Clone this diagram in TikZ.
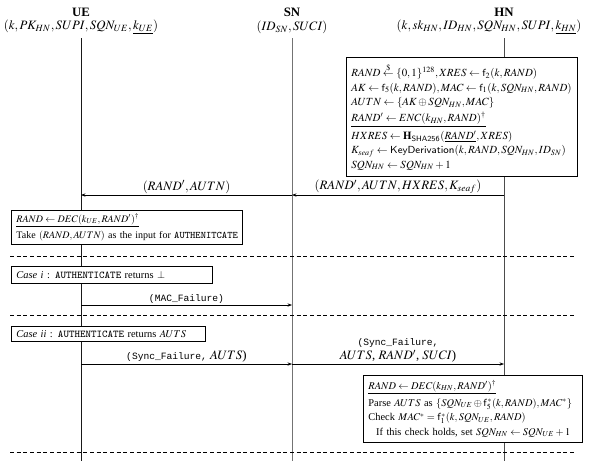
\documentclass[tikz,border=0pt]{standalone}
\usepackage{amsmath}
\usepackage{mathptmx}
\usepackage[no-math]{fontspec}
\setmainfont{Liberation Serif}
\newfontfamily\courfont{Liberation Mono}
\usetikzlibrary{arrows.meta}

\begin{document}
\begin{tikzpicture}[x=0.78pt,y=-0.78pt,
    lifeline/.style={line width=.6pt},
    msg/.style={-{Stealth[length=3.5pt,width=2.6pt]},line width=.5pt},
    box/.style={draw,line width=.5pt,fill=white,anchor=north west,align=left,inner xsep=4pt,inner ysep=1pt,font=\fontsize{8.1}{11.3}\selectfont},
    sep/.style={dash pattern=on 3pt off 2.2pt,line width=.5pt},
    lbl/.style={above,inner sep=.8pt},
    cour/.style={font=\courfont\fontsize{7.5}{9}\selectfont}]
  \useasboundingbox (0,0) rectangle (600,461);
  \coordinate (ueT) at (81,38);\coordinate (ueB) at (81,461);\coordinate (snT) at (292,38);\coordinate (snB) at (292,461);\coordinate (hnT) at (504,38);\coordinate (hnB) at (504,461);

  % parties
  \node[font=\bfseries] (ue) at (81,12) {UE};
  \node (uekeys) at (81,27) {$(k,PK_{HN},SUPI,SQN_{UE},\underline{k_{UE}})$};
  \node[font=\bfseries] (sn) at (292,12) {SN};
  \node (snkeys) at (292,27) {$(ID_{SN},SUCI)$};
  \node[font=\bfseries] (hn) at (504,12) {HN};
  \node (hnkeys) at (489,27) {$(k,sk_{HN},ID_{HN},SQN_{HN},SUPI,\underline{k_{HN}})$};

  \draw[lifeline,black!90] (ueT) -- (ueB);
  \draw[lifeline,black!55] (snT) -- (snB);
  \draw[lifeline,black!70] (hnT) -- (hnB);

  % HN prepares the challenge
  \node[box,text width=172pt,minimum height=93pt,font=\fontsize{8.5}{11.1}\selectfont] (hnprep) at (346,57) {%
    $RAND \overset{\$}{\leftarrow} \{0,1\}^{128}, XRES \leftarrow \mathsf{f}_2(k,RAND)$\\
    $AK \leftarrow \mathsf{f}_5(k,RAND), MAC \leftarrow \mathsf{f}_1(k,SQN_{HN},RAND)$\\
    $AUTN \leftarrow \{AK \oplus SQN_{HN}, MAC\}$\\[1.5pt]
    $\underline{RAND' \leftarrow ENC(k_{HN},RAND)^{\dagger}}$\\[3pt]
    $HXRES \leftarrow \mathbf{H}_{\mathsf{SHA256}}(\underline{RAND'},XRES)$\\
    $K_{seaf} \leftarrow \mathsf{KeyDerivation}(k,RAND,SQN_{HN},ID_{SN})$\\
    $SQN_{HN} \leftarrow SQN_{HN}+1$};

  \coordinate (hn1) at (504,195);\coordinate (sn1) at (292,195);\coordinate (ue1) at (81,195);
  \draw[msg] (hn1) -- node[lbl] {$(RAND',AUTN,HXRES,K_{seaf})$} (sn1);
  \draw[msg] (sn1) -- node[lbl] {$(RAND',AUTN)$} (ue1);

  \node[box,inner xsep=4pt,text width=172pt,minimum height=26.5pt,font=\fontsize{7.8}{11}\selectfont] (uedec) at (11,210) {%
    $\underline{RAND \leftarrow DEC(k_{UE},RAND')^{\dagger}}$\\[2pt]
    \mbox{Take $(RAND,AUTN)$ as the input for \texttt{AUTHENITCATE}}};

  % case i
  \node[box,text width=148.8pt,minimum height=13.3pt] (caseone) at (11,266) {%
    \textit{Case i} : \texttt{AUTHENTICATE} returns $\perp$};
  \coordinate (ue2) at (81,305);\coordinate (sn2) at (292,305);
  \draw[msg] (ue2) -- node[lbl,cour] {(MAC\_Failure)} (sn2);

  % case ii
  \node[box,text width=143.3pt,minimum height=11.7pt] (casetwo) at (11,326) {%
    \textit{Case ii} : \texttt{AUTHENTICATE} returns $AUTS$};
  \coordinate (ue3) at (81,364);\coordinate (sn3) at (292,364);\coordinate (hn3) at (504,364);
  \draw[msg] (ue3) -- node[lbl] {{\courfont\fontsize{7.5}{9}\selectfont(Sync\_Failure,} $AUTS$)} (sn3);
  \draw[msg] (sn3) -- node[lbl,align=center] {{\courfont\fontsize{7.5}{9}\selectfont(Sync\_Failure,}\\[-1pt]$AUTS$, $RAND'$, $SUCI$)} (hn3);

  \node[box,text width=162.6pt,minimum height=52.3pt] (hnresync) at (363,375) {%
    $\underline{RAND \leftarrow DEC(k_{HN},RAND')^{\dagger}}$\\[2pt]
    Parse $AUTS$ as $\{SQN_{UE} \oplus \mathsf{f}_5^{*}(k,RAND),MAC^{*}\}$\\
    Check $MAC^{*} = \mathsf{f}_1^{*}(k,SQN_{UE},RAND)$\\
    \hspace{6pt}If this check holds, set $SQN_{HN} \leftarrow SQN_{UE}+1$};

  \foreach \y in {256,315,452} {
    \draw[sep] (10,\y) -- (576,\y);
  }
\end{tikzpicture}
\end{document}
